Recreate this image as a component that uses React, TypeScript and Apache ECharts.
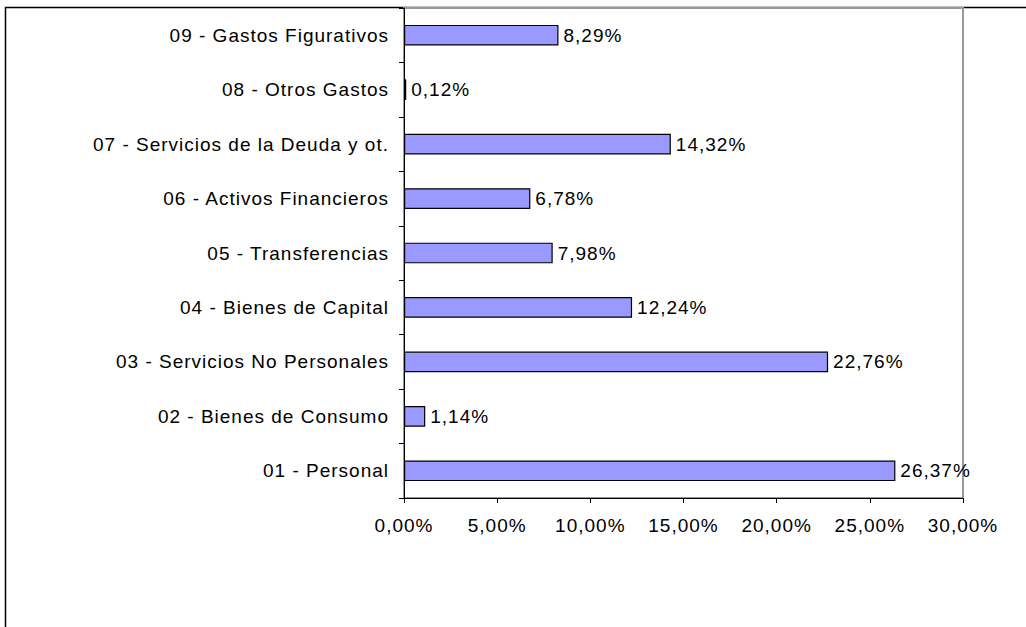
import React, { useEffect, useRef } from "react";
import * as echarts from "echarts";

const categories = [
  "01 - Personal",
  "02 - Bienes de Consumo",
  "03 - Servicios No Personales",
  "04 - Bienes de Capital",
  "05 - Transferencias",
  "06 - Activos Financieros",
  "07 - Servicios de la Deuda y ot.",
  "08 - Otros Gastos",
  "09 - Gastos Figurativos",
];
const values = [26.37, 1.14, 22.76, 12.24, 7.98, 6.78, 14.32, 0.12, 8.29];

const fmt = (v: number) => v.toFixed(2).replace(".", ",") + "%";

export default function App() {
  const ref = useRef<HTMLDivElement>(null);
  useEffect(() => {
    const chart = echarts.init(ref.current!, null, { renderer: "svg" });
    const font = "Liberation Sans, Arial, sans-serif";
    chart.setOption({
      animation: false,
      backgroundColor: "#ffffff",
      graphic: [
        {
          type: "rect",
          shape: { x: 5.5, y: 7.5, width: 1100, height: 700 },
          style: { fill: "none", stroke: "#000", lineWidth: 1.5 },
          z: -1,
        },
      ],
      grid: {
        left: 404,
        right: 63,
        top: 8,
        bottom: 129,
        show: true,
        borderColor: "#999999",
        borderWidth: 2,
        backgroundColor: "transparent",
      },
      xAxis: {
        type: "value",
        min: 0,
        max: 30,
        interval: 5,
        axisLine: { show: true, lineStyle: { color: "#000", width: 1 } },
        axisTick: { show: true, length: 5, lineStyle: { color: "#000" } },
        splitLine: { show: false },
        axisLabel: {
          margin: 18,
          fontSize: 19,
          fontFamily: font,
          color: "#000",
          formatter: (v: number) => fmt(v),
        },
      },
      yAxis: {
        type: "category",
        data: categories,
        axisLine: { show: true, lineStyle: { color: "#000", width: 1 } },
        axisTick: { show: true, length: 5, lineStyle: { color: "#000" } },
        axisLabel: {
          margin: 15,
          fontSize: 19,
          fontFamily: font,
          color: "#000",
        },
      },
      series: [
        {
          type: "bar",
          data: values,
          barWidth: "38%",
          itemStyle: { color: "#9999ff", borderColor: "#000", borderWidth: 1.2 },
          label: {
            show: true,
            position: "right",
            distance: 5,
            fontSize: 19,
            fontFamily: font,
            color: "#000",
            formatter: (p: any) => fmt(p.value),
          },
        },
      ],
    });
    return () => chart.dispose();
  }, []);
  return (
    <>
      <style>{"#root svg text { letter-spacing: 1px; }"}</style>
      <div
        ref={ref}
        style={{ position: "fixed", left: 0, top: 0, width: 1026, height: 627 }}
      />
    </>
  );
}
